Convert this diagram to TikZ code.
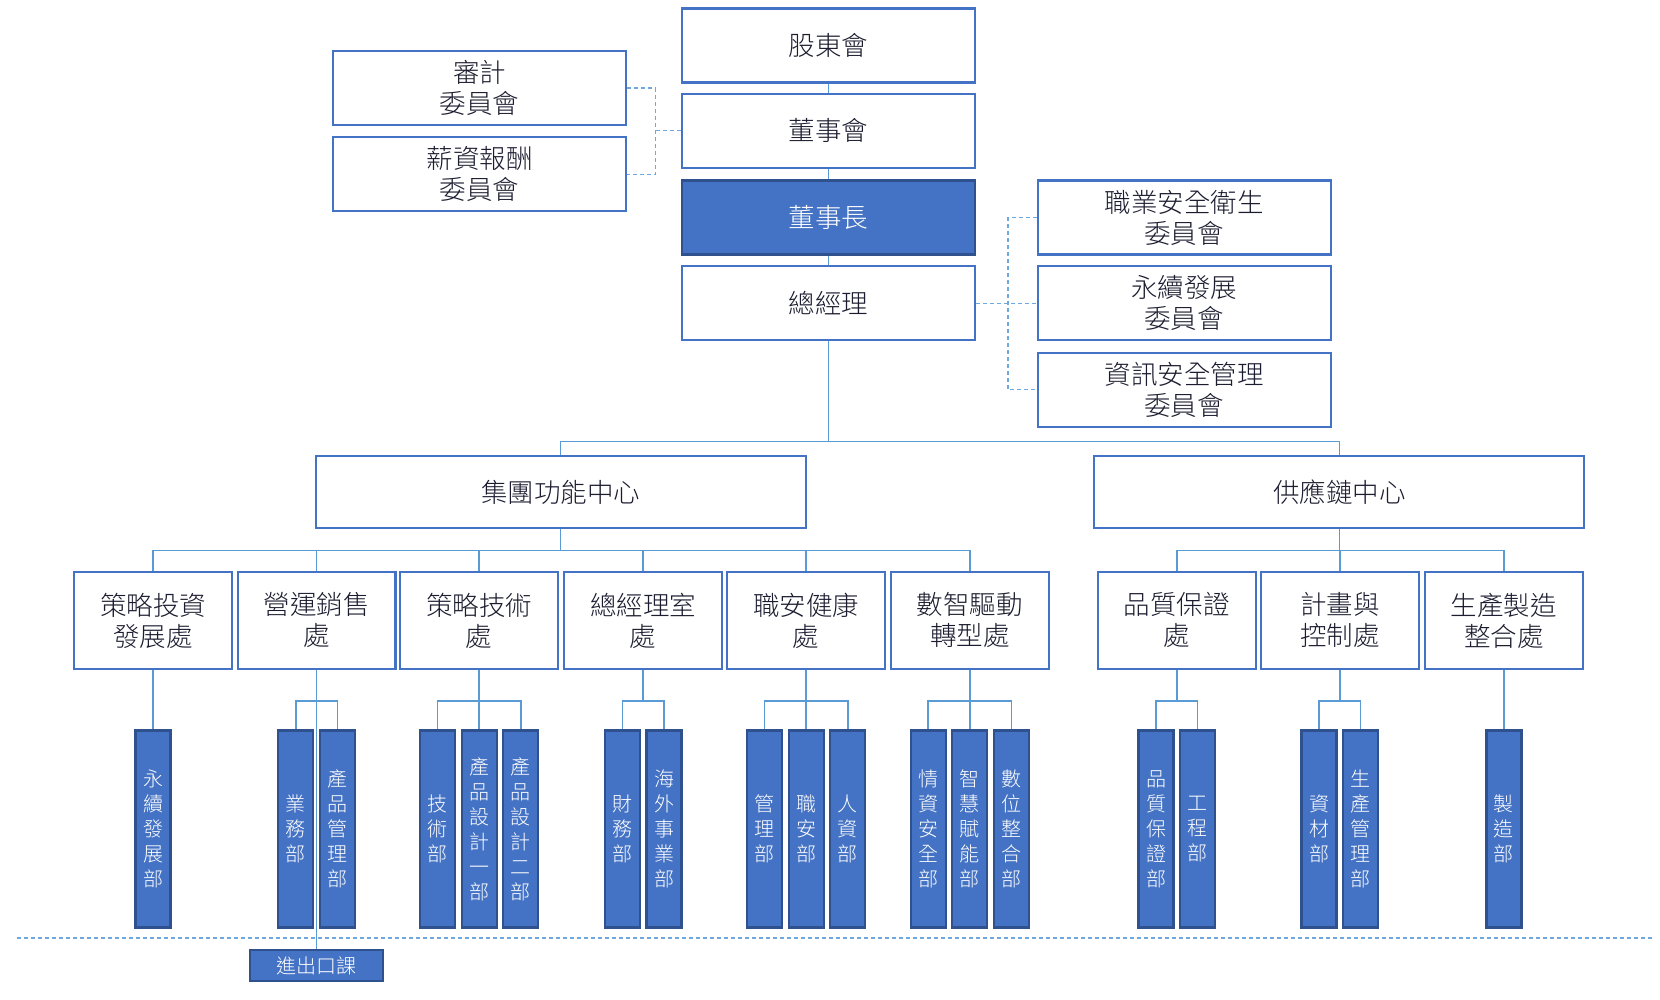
\documentclass[tikz,border=0pt]{standalone}
\usepackage{fontspec}
\newfontfamily\cjk{Noto Sans CJK TC}[UprightFont=* Light]
\definecolor{boxblue}{RGB}{68,114,196}
\definecolor{darkblue}{RGB}{47,82,143}
\definecolor{connblue}{RGB}{91,155,213}
\definecolor{dashblue}{RGB}{110,168,222}
\definecolor{txt}{RGB}{28,28,48}
\tikzset{
  basebox/.style={draw=boxblue, line width=2.2pt, fill=white, text=txt, align=center, inner sep=0pt,
    font=\cjk\fontsize{26.5}{31}\selectfont},
  topbox/.style={basebox, minimum width=293pt, minimum height=74pt},
  filledbox/.style={fill=boxblue, draw=darkblue, text=white},
  midbox/.style={basebox, minimum width=490pt, minimum height=72pt},
  divbox/.style={basebox, minimum width=157.7pt, minimum height=97.4pt},
  vbox/.style={draw=darkblue, line width=2.2pt, fill=boxblue, text=white, align=center, inner sep=0pt,
    minimum width=35pt, minimum height=197pt, font=\cjk\fontsize{20}{25}\selectfont},
  secbox/.style={draw=darkblue, line width=2.2pt, fill=boxblue, text=white, align=center, inner sep=0pt,
    minimum width=133pt, minimum height=31pt, font=\cjk\fontsize{20}{24}\selectfont},
  conn/.style={draw=connblue, line width=1.6pt},
  dashc/.style={draw=dashblue, line width=1.3pt, dash pattern=on 4pt off 3pt}
}
\begin{document}
\begin{tikzpicture}[x=1pt,y=-1pt]
\fill[white] (0,0) rectangle (1660,1000);
\useasboundingbox (0,0) rectangle (1660,1000);

% helper coordinates
\coordinate (lv) at (655.3,0);
\coordinate (rv) at (1007.9,0);
\coordinate (b1) at (0,441.5);
\coordinate (b2) at (0,550.5);
\coordinate (b3) at (0,700.9);
\coordinate (dl) at (17,938);
\coordinate (dr) at (1652,938);

% dashed separator
\draw[dashc] (dl) -- (dr);

% top column
\node[topbox] (sh) at (828.4,45.5) {股東會};
\node[topbox] (bd) at (828.4,130.8) {董事會};
\node[topbox,filledbox] (ch) at (828.4,217.6) {董事長};
\node[topbox] (gm) at (828.4,303.3) {總經理};

% committees
\node[topbox] (audit) at (479.6,87.9) {審計\\委員會};
\node[topbox] (comp) at (479.6,174.2) {薪資報酬\\委員會};
\node[topbox] (osh) at (1184.2,217.6) {職業安全衛生\\委員會};
\node[topbox] (esg) at (1184.2,303.3) {永續發展\\委員會};
\node[topbox] (isec) at (1184.2,389.6) {資訊安全管理\\委員會};

% level 2
\node[midbox] (grp) at (560.6,492.3) {集團功能中心};
\node[midbox] (sup) at (1339.3,492.3) {供應鏈中心};

% level 3
\node[divbox] (p1) at (153.0,620.4) {策略投資\\發展處};
\node[divbox] (p2) at (316.6,620.4) {營運銷售\\處};
\node[divbox] (p3) at (479.1,620.4) {策略技術\\處};
\node[divbox] (p4) at (643.2,620.4) {總經理室\\處};
\node[divbox] (p5) at (806.2,620.4) {職安健康\\處};
\node[divbox] (p6) at (969.8,620.4) {數智驅動\\轉型處};
\node[divbox] (p7) at (1176.8,620.4) {品質保證\\處};
\node[divbox] (p8) at (1339.8,620.4) {計畫與\\控制處};
\node[divbox] (p9) at (1503.9,620.4) {生產製造\\整合處};

% level 4
\node[vbox] (d1) at (153.0,829) {永\\續\\發\\展\\部};
\node[vbox] (d2) at (295.8,829) {業\\務\\部};
\node[vbox] (d3) at (337.4,829) {產\\品\\管\\理\\部};
\node[vbox] (d4) at (437.5,829) {技\\術\\部};
\node[vbox] (d5) at (479.1,829) {產\\品\\設\\計\\一\\部};
\node[vbox] (d6) at (520.7,829) {產\\品\\設\\計\\二\\部};
\node[vbox] (d7) at (622.4,829) {財\\務\\部};
\node[vbox] (d8) at (664.0,829) {海\\外\\事\\業\\部};
\node[vbox] (d9) at (764.6,829) {管\\理\\部};
\node[vbox] (d10) at (806.2,829) {職\\安\\部};
\node[vbox] (d11) at (847.8,829) {人\\資\\部};
\node[vbox] (d12) at (928.2,829) {情\\資\\安\\全\\部};
\node[vbox] (d13) at (969.8,829) {智\\慧\\賦\\能\\部};
\node[vbox] (d14) at (1011.4,829) {數\\位\\整\\合\\部};
\node[vbox] (d15) at (1156.0,829) {品\\質\\保\\證\\部};
\node[vbox] (d16) at (1197.6,829) {工\\程\\部};
\node[vbox] (d17) at (1319.0,829) {資\\材\\部};
\node[vbox] (d18) at (1360.6,829) {生\\產\\管\\理\\部};
\node[vbox] (d19) at (1503.9,829) {製\\造\\部};

\node[secbox] (imp) at (316.6,965.5) {進出口課};

% main column connectors
\draw[conn] (sh.south) -- (bd.north);
\draw[conn] (bd.south) -- (ch.north);
\draw[conn] (ch.south) -- (gm.north);

% dashed committee connectors
\draw[dashc] (audit.east) -- (audit.east -| lv) -- (comp.east -| lv) -- (comp.east);
\draw[dashc] (bd.west) -- (bd.west -| lv);
\draw[dashc] (osh.west) -- (osh.west -| rv) -- (isec.west -| rv) -- (isec.west);
\draw[dashc] (gm.east) -- (esg.west);

% level 2 connectors
\draw[conn] (gm.south) -- (gm.south |- b1);
\draw[conn] (grp.north) -- (grp.north |- b1) -- (sup.north |- b1) -- (sup.north);

% level 3 connectors
\draw[conn] (grp.south) -- (grp.south |- b2);
\draw[conn] (p1.north) -- (p1.north |- b2) -- (p6.north |- b2) -- (p6.north);
\foreach \p in {p2,p3,p4,p5} \draw[conn] (\p.north) -- (\p.north |- b2);
\draw[conn] (sup.south) -- (sup.south |- b2);
\draw[conn] (p7.north) -- (p7.north |- b2) -- (p9.north |- b2) -- (p9.north);
\draw[conn] (p8.north) -- (p8.north |- b2);

% level 4 connectors
\draw[conn] (p1.south) -- (d1.north);
\draw[conn] (p2.south) -- (imp.north);
\draw[conn] (d2.north) -- (d2.north |- b3) -- (d3.north |- b3) -- (d3.north);
\draw[conn] (p3.south) -- (d5.north);
\draw[conn] (d4.north) -- (d4.north |- b3) -- (d6.north |- b3) -- (d6.north);
\draw[conn] (p4.south) -- (p4.south |- b3);
\draw[conn] (d7.north) -- (d7.north |- b3) -- (d8.north |- b3) -- (d8.north);
\draw[conn] (p5.south) -- (d10.north);
\draw[conn] (d9.north) -- (d9.north |- b3) -- (d11.north |- b3) -- (d11.north);
\draw[conn] (p6.south) -- (d13.north);
\draw[conn] (d12.north) -- (d12.north |- b3) -- (d14.north |- b3) -- (d14.north);
\draw[conn] (p7.south) -- (p7.south |- b3);
\draw[conn] (d15.north) -- (d15.north |- b3) -- (d16.north |- b3) -- (d16.north);
\draw[conn] (p8.south) -- (p8.south |- b3);
\draw[conn] (d17.north) -- (d17.north |- b3) -- (d18.north |- b3) -- (d18.north);
\draw[conn] (p9.south) -- (d19.north);
\end{tikzpicture}
\end{document}
